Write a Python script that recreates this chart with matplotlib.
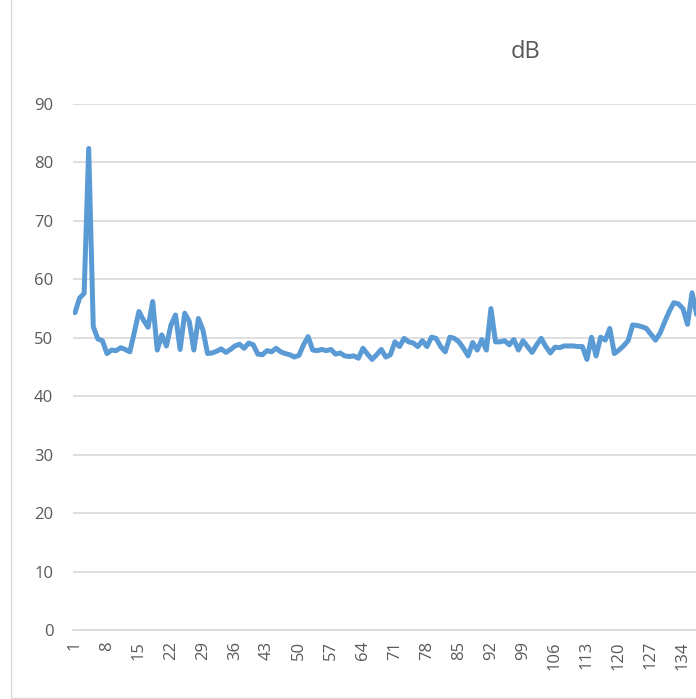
import matplotlib
matplotlib.use("Agg")
import matplotlib.pyplot as plt
from matplotlib.patches import Rectangle

# ---- data ----
title = "dB"
values = [
    54.3, 56.8, 57.6, 82.4, 51.9, 49.8, 49.5, 47.3, 47.9, 47.8,   # 1-10
    48.3, 48.0, 47.6, 51.0, 54.5, 53.0, 51.8, 56.2, 47.9, 50.5,   # 11-20
    48.6, 52.2, 53.9, 48.0, 54.2, 52.8, 47.9, 53.3, 51.3, 47.3,   # 21-30
    47.4, 47.7, 48.1, 47.5, 48.0, 48.6, 48.9, 48.2, 49.1, 48.8,   # 31-40
    47.2, 47.1, 47.8, 47.6, 48.2, 47.6, 47.3, 47.1, 46.7, 47.0,   # 41-50
    48.8, 50.2, 47.9, 47.8, 48.0, 47.8, 48.0, 47.2, 47.4, 46.9,   # 51-60
    46.8, 46.9, 46.5, 48.2, 47.2, 46.3, 47.1, 48.0, 46.7, 47.1,   # 61-70
    49.3, 48.5, 49.9, 49.3, 49.1, 48.5, 49.5, 48.5, 50.1, 49.9,   # 71-80
    48.5, 47.6, 50.1, 49.9, 49.3, 48.2, 46.9, 49.2, 47.9, 49.7,   # 81-90
    47.9, 55.0, 49.3, 49.3, 49.5, 48.8, 49.7, 47.9, 49.5, 48.5,   # 91-100
    47.5, 48.8, 49.9, 48.5, 47.4, 48.4, 48.3, 48.6, 48.6, 48.6,   # 101-110
    48.5, 48.5, 46.3, 50.1, 46.9, 50.1, 49.6, 51.6, 47.3, 47.9,   # 111-120
    48.6, 49.5, 52.2, 52.1, 51.9, 51.6, 50.6, 49.6, 50.8, 52.7,   # 121-130
    54.5, 56.0, 55.8, 55.0, 52.3, 57.7, 54.0,                     # 131-137
]
x = list(range(1, len(values) + 1))
xtick_labels = [str(v) for v in range(1, 135, 7)]
ytick_values = list(range(0, 100, 10))

W, H = 696, 699
fig = plt.figure(figsize=(W / 100, H / 100), dpi=100)
plt.rcParams['font.family'] = ['Open Sans', 'DejaVu Sans']

# chart-area border (light grey), top and right run off the picture
fig.patches.append(Rectangle((10.5 / W, 1.5 / H), (W + 20 - 10.5) / W, (H + 20) / H,
                             transform=fig.transFigure, fill=False,
                             edgecolor='#D9D9D9', linewidth=1.0, zorder=0))

left_px, right_px = 72.7, 696.0
zero_px, top_px = 630.0, 104.0
step = 4.571
ax = fig.add_axes([left_px / W, (H - zero_px) / H,
                   (right_px - left_px) / W, (zero_px - top_px) / H])

ax.plot(x, values, color='#5B9BD5', linewidth=3.6, solid_joinstyle='round',
        solid_capstyle='round', zorder=3)

ax.set_xlim(0.5, 0.5 + (right_px - left_px) / step)
ax.set_ylim(0, 90)
ax.set_yticks(ytick_values)
ax.set_yticklabels([str(v) for v in ytick_values])
ax.set_xticks(list(range(1, 135, 7)))
ax.set_xticklabels(xtick_labels, rotation=90, va='top', ha='center')

ax.grid(axis='y', color='#D9D9D9', linewidth=1.2, zorder=0)
ax.set_axisbelow(True)
for s in ['top', 'right', 'left']:
    ax.spines[s].set_visible(False)
ax.spines['bottom'].set_color('#D9D9D9')
ax.spines['bottom'].set_linewidth(1.2)
ax.tick_params(axis='both', length=0, labelsize=12, labelcolor='#595959')
ax.tick_params(axis='y', pad=14)
ax.tick_params(axis='x', pad=8)

fig.text(525 / W, (H - 52) / H, title, ha='center', va='center',
         fontsize=17, color='#595959')

fig.savefig('out.png', dpi=100)
